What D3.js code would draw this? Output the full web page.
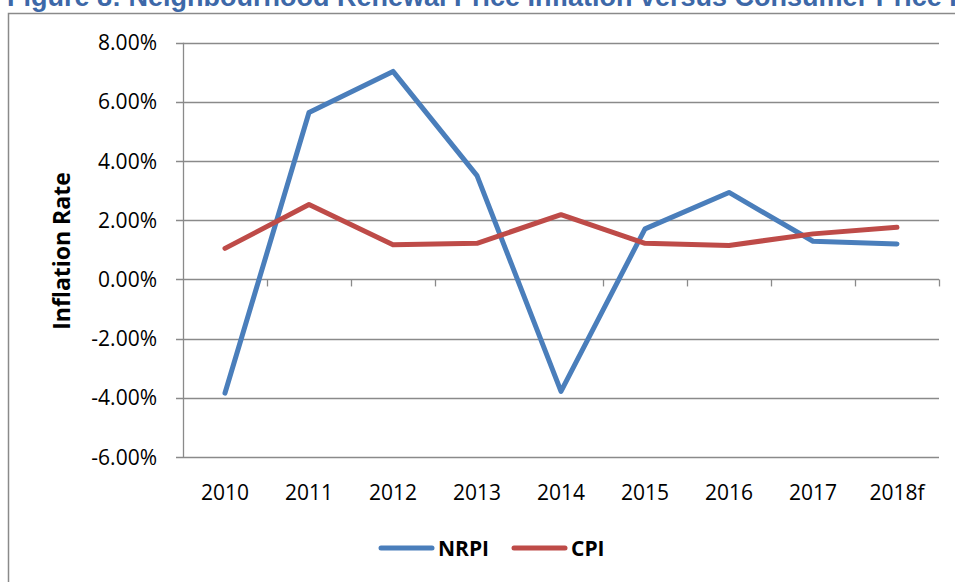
<!DOCTYPE html>
<html>
<head>
<meta charset="utf-8">
<script src="https://cdn.jsdelivr.net/npm/d3@7"></script>
<style>
  body { margin: 0; background: #fff; overflow: hidden; }
  svg { display: block; }
</style>
</head>
<body>
<div id="chart"></div>
<script>
var years = ['2010', '2011', '2012', '2013', '2014', '2015', '2016', '2017', '2018f'];
var nrpi = [-3.84, 5.64, 7.03, 3.51, -3.78, 1.71, 2.94, 1.29, 1.20];
var cpi = [1.05, 2.53, 1.17, 1.22, 2.19, 1.22, 1.15, 1.54, 1.76];
var yTicks = [8, 6, 4, 2, 0, -2, -4, -6];
var seriesNames = ['NRPI', 'CPI'];
var seriesColors = ['#4a7ebb', '#be4b48'];

var width = 955, height = 582;
var gridColor = '#8a8a8a';
var labelFont = '"Open Sans", sans-serif';

var svg = d3.select('#chart').append('svg')
    .attr('width', width).attr('height', height);

// title, mostly cut off at the top like in the source page
svg.append('text')
    .attr('x', 7).attr('y', 6)
    .attr('fill', '#3d68a8')
    .attr('font-family', 'Liberation Sans, Arial, sans-serif')
    .attr('font-weight', 'bold')
    .attr('font-size', 27)
    .text('Figure 8: Neighbourhood Renewal Price Inflation versus Consumer Price Index');

// outer chart border
svg.append('rect')
    .attr('x', 8.5).attr('y', 13.5)
    .attr('width', 1000).attr('height', 700)
    .attr('fill', 'none')
    .attr('stroke', gridColor)
    .attr('stroke-width', 1.5);

var x = d3.scaleBand().domain(years).range([183, 939]);
var y = d3.scaleLinear().domain([-6, 8]).range([457, 42.7]);

// horizontal gridlines
svg.append('g').selectAll('line')
    .data(yTicks)
    .enter().append('line')
    .attr('x1', 176).attr('x2', 939)
    .attr('y1', function (d) { return Math.round(y(d)) + 0.5; })
    .attr('y2', function (d) { return Math.round(y(d)) + 0.5; })
    .attr('stroke', gridColor)
    .attr('stroke-width', 1.3);

// vertical axis line
svg.append('line')
    .attr('x1', 183.5).attr('x2', 183.5)
    .attr('y1', y(8)).attr('y2', y(-6) + 1)
    .attr('stroke', gridColor).attr('stroke-width', 1.3);

// category ticks on the zero line
var boundaries = years.map(function (d) { return x(d) + x.bandwidth(); });
svg.append('g').selectAll('line')
    .data(boundaries)
    .enter().append('line')
    .attr('x1', function (d) { return Math.round(d) + 0.5; })
    .attr('x2', function (d) { return Math.round(d) + 0.5; })
    .attr('y1', y(0)).attr('y2', y(0) + 7)
    .attr('stroke', gridColor).attr('stroke-width', 1.3);

// y tick labels (plain hyphen for negatives)
svg.append('g').selectAll('text')
    .data(yTicks)
    .enter().append('text')
    .attr('x', 157)
    .attr('y', function (d) { return y(d); })
    .attr('dy', '0.36em')
    .attr('text-anchor', 'end')
    .attr('font-family', labelFont)
    .attr('font-size', 21)
    .attr('fill', '#000')
    .text(function (d) { return d.toFixed(2) + '%'; });

// x labels
svg.append('g').selectAll('text')
    .data(years)
    .enter().append('text')
    .attr('x', function (d) { return x(d) + x.bandwidth() / 2; })
    .attr('y', 500)
    .attr('text-anchor', 'middle')
    .attr('font-family', labelFont)
    .attr('font-size', 21)
    .attr('fill', '#000')
    .text(function (d) { return d; });

// axis title
svg.append('text')
    .attr('transform', 'translate(70,251) rotate(-90)')
    .attr('text-anchor', 'middle')
    .attr('font-family', labelFont)
    .attr('font-weight', 'bold')
    .attr('font-size', 23)
    .attr('fill', '#000')
    .text('Inflation Rate');

// series lines
var line = d3.line()
    .x(function (d, i) { return x(years[i]) + x.bandwidth() / 2; })
    .y(function (d) { return y(d); });

[nrpi, cpi].forEach(function (vals, i) {
    svg.append('path')
        .datum(vals)
        .attr('d', line)
        .attr('fill', 'none')
        .attr('stroke', seriesColors[i])
        .attr('stroke-width', 5)
        .attr('stroke-linejoin', 'round')
        .attr('stroke-linecap', 'round');
});

// legend
var legendX = [379, 512];
var legend = svg.append('g').selectAll('g')
    .data(seriesNames)
    .enter().append('g')
    .attr('transform', function (d, i) { return 'translate(' + legendX[i] + ',548)'; });

legend.append('line')
    .attr('x1', 2).attr('x2', 53)
    .attr('y1', 0).attr('y2', 0)
    .attr('stroke', function (d, i) { return seriesColors[i]; })
    .attr('stroke-width', 5)
    .attr('stroke-linecap', 'round');

legend.append('text')
    .attr('x', 59).attr('y', 0)
    .attr('dy', '0.36em')
    .attr('font-family', labelFont)
    .attr('font-weight', 'bold')
    .attr('font-size', 21)
    .attr('fill', '#000')
    .text(function (d) { return d; });
</script>
</body>
</html>
